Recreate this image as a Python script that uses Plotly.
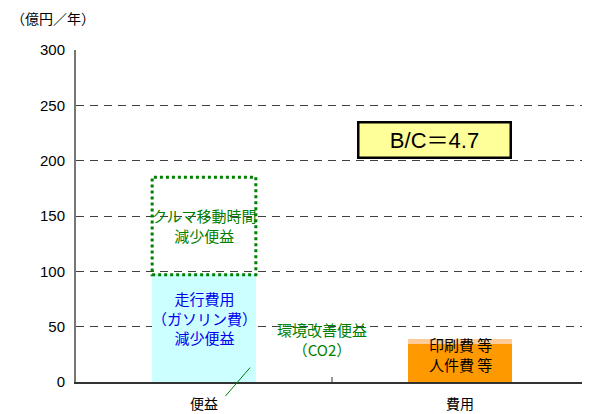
import plotly.graph_objects as go

categories = ["便益", "費用"]
fuel_benefit = [96, 0]        # 走行費用（ガソリン費）減少便益
env_benefit = [1, 0]          # 環境改善便益（CO2）
time_benefit = [88, 0]        # クルマ移動時間減少便益
personnel_cost = [0, 34]      # 人件費 等
printing_cost = [0, 5]        # 印刷費 等
bc_label = "B/C＝4.7"
y_ticks = [0, 50, 100, 150, 200, 250, 300]

BW = 0.405
FONT = "Liberation Sans, Noto Sans CJK JP, sans-serif"
JP = "Noto Sans CJK JP, sans-serif"
GREEN = "#008000"
BLUE = "#0000EE"

fig = go.Figure()
fig.add_bar(x=categories, y=fuel_benefit, marker_color="#CCFFFF", marker_line_width=0, width=BW)
fig.add_bar(x=categories, y=env_benefit, marker_color="#CCFFFF", marker_line_width=0, width=BW)
fig.add_bar(x=categories, y=time_benefit, marker_color="rgba(0,0,0,0)", marker_line_width=0, width=BW)
fig.add_bar(x=categories, y=personnel_cost, marker_color="#FF9900", marker_line_width=0, width=BW)
fig.add_bar(x=categories, y=printing_cost, marker_color="#FFCC99", marker_line_width=0, width=BW)

# dotted outline of time-benefit box
base = fuel_benefit[0] + env_benefit[0]
top = base + time_benefit[0]
fig.add_shape(type="rect", xref="x", yref="y", x0=0 - BW / 2, x1=0 + BW / 2,
              y0=base, y1=top, line=dict(color=GREEN, width=3, dash="dot"), layer="above")

ann = []
ann.append(dict(x=0, y=(base + top) / 2, text="クルマ移動時間<br>減少便益", showarrow=False,
                font=dict(family=JP, size=15, color=GREEN)))
ann.append(dict(x=0, y=fuel_benefit[0] * 0.6, text="走行費用<br>（ガソリン費）<br>減少便益", showarrow=False,
                font=dict(family=JP, size=15, color=BLUE)))
ann.append(dict(x=0.46, y=38, text="環境改善便益<br>（CO2）", showarrow=False,
                font=dict(family=JP, size=15, color=GREEN)))
ann.append(dict(x=1, y=personnel_cost[1] + printing_cost[1] / 2 - 3, text="印刷費 等", showarrow=False,
                font=dict(family=JP, size=15, color="black")))
ann.append(dict(x=1, y=personnel_cost[1] / 2 - 1, text="人件費 等", showarrow=False,
                font=dict(family=JP, size=15, color="black")))
ann.append(dict(x=0.18, y=13, xref="x", yref="y", text="", showarrow=True, arrowhead=0,
                arrowcolor=GREEN, arrowwidth=1, ax=-26, ay=30))
ann.append(dict(x=0.9, y=219, text=bc_label, showarrow=False,
                font=dict(family=FONT, size=22, color="black"),
                bgcolor="#FFFF99", bordercolor="black", borderwidth=2.5,
                width=148, height=31))
ann.append(dict(x=0, y=1, xref="paper", yref="paper", xanchor="left", yanchor="bottom",
                text="（億円／年）", showarrow=False, xshift=-67, yshift=20,
                font=dict(family=JP, size=14, color="black")))

fig.update_layout(
    barmode="stack", showlegend=False,
    width=582, height=406,
    margin=dict(l=68, r=2, t=42, b=32),
    plot_bgcolor="white", paper_bgcolor="white",
    font=dict(family=FONT, size=14, color="black"),
    annotations=ann,
    xaxis=dict(type="category", range=[-0.5, 1.5], showgrid=False, showline=True,
               linecolor="#333", linewidth=1.5, ticks="", ticklabelstandoff=8,
               tickfont=dict(family=JP, size=14)),
    yaxis=dict(range=[0, 300], tickvals=y_ticks, showgrid=True, gridcolor="#404040",
               griddash="8px,6px", gridwidth=1, showline=True, linecolor="#777", linewidth=2,
               ticks="", zeroline=False, ticklabelstandoff=6,
               tickfont=dict(family=FONT, size=15)),
)
fig.add_shape(type="line", xref="x", yref="paper", x0=0.5, x1=0.5, y0=0, y1=0.015,
              line=dict(color="#333", width=1))

fig.write_html("out.html")
